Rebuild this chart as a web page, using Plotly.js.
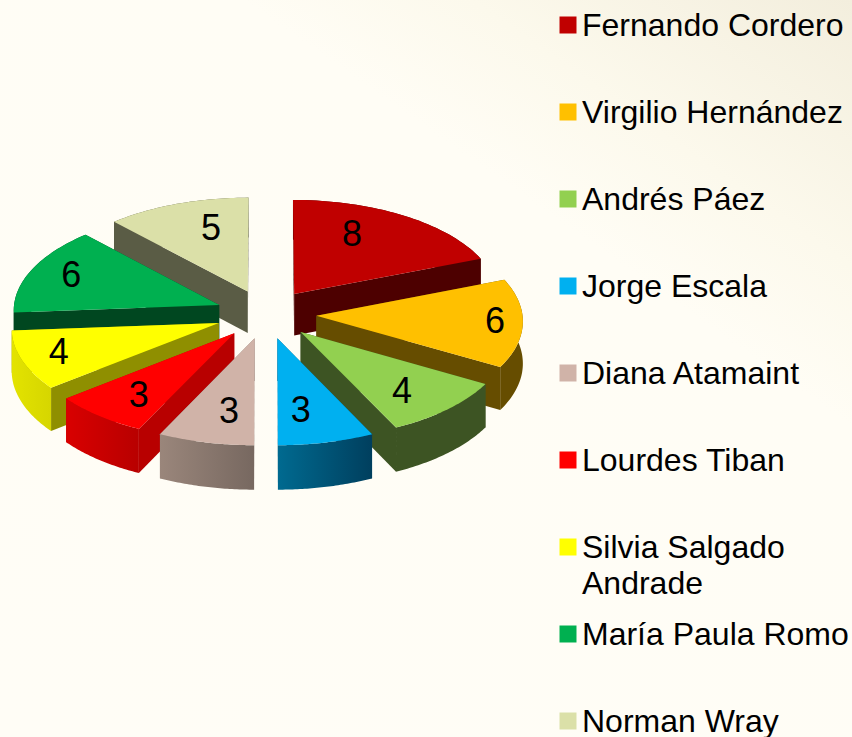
<!DOCTYPE html>
<html><head><meta charset="utf-8">
<script src="https://cdn.plot.ly/plotly-3.0.1.min.js"></script>
<style>
html,body{margin:0;padding:0;width:852px;height:737px;overflow:hidden;
background:linear-gradient(35deg,#FFFDF6 0%,#FFFDF5 68%,#FCF9EC 80%,#F3EEDD 100%);}
#c{width:852px;height:737px}
</style></head><body><div id="c"></div>
<script>
// ----- data -----
const names = ["Fernando Cordero","Virgilio Hernández","Andrés Páez","Jorge Escala","Diana Atamaint","Lourdes Tiban","Silvia Salgado\nAndrade","María Paula Romo","Norman Wray"];
const votes = [8,6,4,3,3,3,4,6,5];
const topColors = ["#C00000","#FFC000","#92D050","#00B0F0","#D0B3A8","#FF0000","#FFFF00","#00B050","#DBE0A8"];
const wallColors = ["#4D0000","#664D00","#3D5423","#005A7A","#8A7870","#B80000","#8F8F00","#004720","#5A5C45"];
const outerFrom = ["#4D0000","#664D00","#3D5423","#006A90","#9A867B","#D90000","#E3E300","#004720","#5A5C45"];
const outerTo = ["#4D0000","#664D00","#3D5423","#003F5E","#776860","#B80000","#D6D600","#004720","#5A5C45"];
// label placement inside each slice (fraction of radius, turn from mid-angle in degrees)
const labelRadius = [0.685,0.866,0.74,0.703,0.705,0.742,0.814,0.79,0.684];
const labelTurn = [-8.8,-0.3,3.3,4.1,-3.3,-1.9,0.5,0.4,5.5];
// ----- projection -----
const cx=266, cy=314, kx=206, ky=100, persp=0.045, explode=0.245, depth=42, labelDrop=2;
const rad=d=>d*Math.PI/180;
function proj(X,Y,lower){const f=1/(1-persp*Y);return [cx+kx*X*f, cy+ky*Y*f+(lower?depth*f:0)];}
const total=votes.reduce((a,b)=>a+b,0);
let cum=0;
const slices=votes.map((v,i)=>{const s=cum/total*360;cum+=v;const e=cum/total*360,m=(s+e)/2;
  return {i,s,e,m,ax:explode*Math.sin(rad(m)),ay:-explode*Math.cos(rad(m))};});
const pt=(sl,a,r)=>[sl.ax+r*Math.sin(rad(a)),sl.ay-r*Math.cos(rad(a))];
function poly(pts,color,grad){
  const t={x:pts.map(p=>p[0]),y:pts.map(p=>p[1]),mode:'none',fill:'toself',hoverinfo:'skip',showlegend:false,xaxis:'x',yaxis:'y'};
  if(grad) t.fillgradient={type:'horizontal',colorscale:[[0,grad[0]],[1,grad[1]]]};
  else t.fillcolor=color;
  return t;
}
function arc(sl,lower,rev){const o=[];const n=40;for(let k=0;k<=n;k++){const a=sl.s+(sl.e-sl.s)*(rev?n-k:k)/n;const p=pt(sl,a,1);o.push(proj(p[0],p[1],lower));}return o;}
function radialWall(sl,a,color){const p=pt(sl,a,1);
  return poly([proj(sl.ax,sl.ay,false),proj(p[0],p[1],false),proj(p[0],p[1],true),proj(sl.ax,sl.ay,true)],color);}
// paint back to front
const order=slices.slice().sort((a,b)=>a.ay-b.ay);
const traces=[];
order.forEach(sl=>{
  const c=sl.i;
  const walls=[sl.s,sl.e].map(a=>({a,y:pt(sl,a,1)[1]})).sort((p,q)=>p.y-q.y);
  walls.forEach(w=>traces.push(radialWall(sl,w.a,wallColors[c])));
  traces.push(poly(arc(sl,false,false).concat(arc(sl,true,true)),null,[outerFrom[c],outerTo[c]]));
  traces.push(poly([proj(sl.ax,sl.ay,false)].concat(arc(sl,false,false)),topColors[c]));
});
// value labels
const lp=slices.map(sl=>{const p=pt(sl,sl.m+labelTurn[sl.i],labelRadius[sl.i]);return proj(p[0],p[1],false);});
traces.push({x:lp.map(p=>p[0]),y:lp.map(p=>p[1]+labelDrop),mode:'text',text:votes.map(String),textposition:'middle center',
  textfont:{family:'Liberation Sans, Arial, sans-serif',size:36,color:'#000'},hoverinfo:'skip',showlegend:false,xaxis:'x',yaxis:'y'});
// legend swatches, one row per name
const rows=names.map((_,i)=>i);
const swatchX=568, textX=580, lineGap=36;
traces.push({x:rows.map(()=>swatchX),y:rows,mode:'markers',marker:{symbol:'square',size:17,color:topColors,line:{width:0}},
  hoverinfo:'skip',showlegend:false,xaxis:'x',yaxis:'y2'});
const annotations=[];
names.forEach((n,i)=>n.split("\n").forEach((line,j)=>annotations.push({
  x:textX,y:i,xref:'x',yref:'y2',text:line,showarrow:false,xanchor:'left',yanchor:'middle',yshift:-j*lineGap,
  font:{family:'Liberation Sans, Arial, sans-serif',size:32,color:'#000'}})));
const layout={width:852,height:737,margin:{l:0,r:0,t:0,b:0},paper_bgcolor:'rgba(0,0,0,0)',plot_bgcolor:'rgba(0,0,0,0)',showlegend:false,
  xaxis:{range:[0,852],visible:false,fixedrange:true},
  yaxis:{range:[737,0],visible:false,fixedrange:true},
  yaxis2:{range:[(737-25)/87,-25/87],visible:false,overlaying:'y',fixedrange:true},
  annotations};
Plotly.newPlot('c',traces,layout,{displayModeBar:false,staticPlot:true});
</script></body></html>
